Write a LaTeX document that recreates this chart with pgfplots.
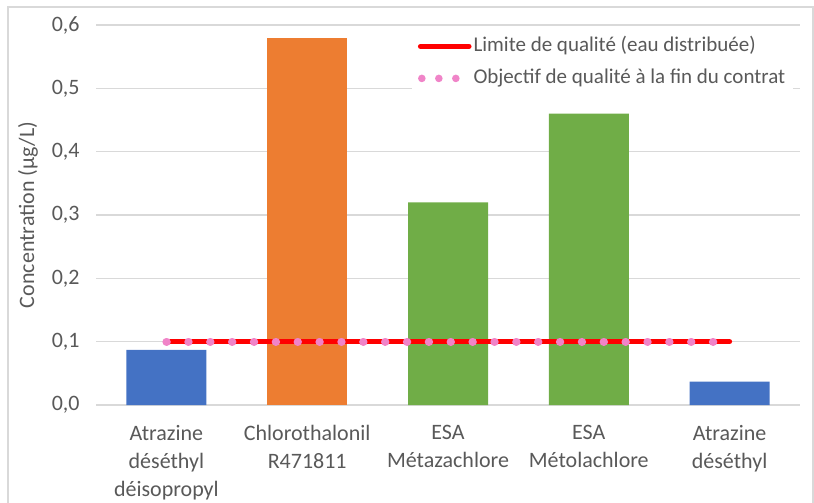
\documentclass[border=0pt]{standalone}
\usepackage{pgfplots}
\pgfplotsset{compat=1.18}
\usepackage{fontspec}
\setmainfont{Carlito}
\definecolor{xblue}{HTML}{4472C4}
\definecolor{xorange}{HTML}{ED7D31}
\definecolor{xgreen}{HTML}{70AD47}
\definecolor{xred}{HTML}{FF0000}
\definecolor{xpink}{RGB}{240,132,200}
\definecolor{xtext}{HTML}{595959}
\definecolor{xgrid}{HTML}{D9D9D9}
\begin{document}
\begin{tikzpicture}
\useasboundingbox (0pt,0pt) rectangle (407pt,-251.5pt);
\draw[xgrid, line width=0.6pt] (4pt,-251.5pt) -- (4pt,-3.5pt) -- (406.5pt,-3.5pt) -- (406.5pt,-251.5pt);
\begin{axis}[
  at={(48pt,-202.5pt)}, anchor=south west,
  scale only axis, width=352pt, height=190pt,
  xmin=-0.5, xmax=4.5, ymin=0, ymax=0.6,
  axis line style={draw=none},
  major tick length=0pt,
  ymajorgrids, grid style={xgrid, line width=0.75pt},
  ytick={0,0.1,0.2,0.3,0.4,0.5,0.6},
  /pgf/number format/fixed, /pgf/number format/fixed zerofill, /pgf/number format/precision=1,
  /pgf/number format/use comma, /pgf/number format/assume math mode=true,
  yticklabel style={font=\fontsize{11}{13}\selectfont, text=xtext, anchor=east, inner sep=0pt, xshift=-8pt},
  xtick={0,1,2,3,4},
  xticklabels={{Atrazine\\déséthyl\\déisopropyl},{Chlorothalonil\\R471811},{ESA\\Métazachlore},{ESA\\Métolachlore},{Atrazine\\déséthyl}},
  xticklabel style={font=\fontsize{11}{14}\selectfont, text=xtext, align=center, anchor=north, inner sep=0pt, yshift=-10pt},
  ylabel={Concentration (µg/L)},
  ylabel style={font=\fontsize{11}{13}\selectfont, text=xtext, at={(axis description cs:0,0.5)}, anchor=center, rotate=0, yshift=34pt},
  legend style={at={(axis description cs:0.4482,0.9921)}, anchor=north west, draw=none, fill=white,
    font=\fontsize{10.5}{12}\selectfont, text=xtext, inner xsep=3pt, inner ysep=3pt, row sep=4pt,
    nodes={inner sep=1pt, text height=7.5pt, text depth=2.5pt}},
  legend cell align=left,
]
\addplot[ybar, bar width=40pt, bar shift=0pt, fill=xblue, draw=none, forget plot] coordinates {(0,0.087) (4,0.037)};
\addplot[ybar, bar width=40pt, bar shift=0pt, fill=xorange, draw=none, forget plot] coordinates {(1,0.58)};
\addplot[ybar, bar width=40pt, bar shift=0pt, fill=xgreen, draw=none, forget plot] coordinates {(2,0.32) (3,0.46)};
\addplot[xred, line width=2.5pt, line cap=round,
  legend image code/.code={\draw[xred, solid, line width=2.5pt, line cap=round] (1.2pt,0) -- (25.5pt,0);}]
  coordinates {(0,0.1) (4,0.1)};
\addlegendentry{Limite de qualité (eau distribuée)}
\addplot[xpink, line width=4pt, line cap=round, dash pattern=on 0.2pt off 10.73pt,
  legend image code/.code={\path[fill=xpink, draw=none, solid] (1.9pt,0) circle[radius=1.9pt] (10.4pt,0) circle[radius=1.9pt] (18.9pt,0) circle[radius=1.9pt];}]
  coordinates {(0,0.1) (4,0.1)};
\addlegendentry{Objectif de qualité à la fin du contrat}
\end{axis}
\end{tikzpicture}
\end{document}
